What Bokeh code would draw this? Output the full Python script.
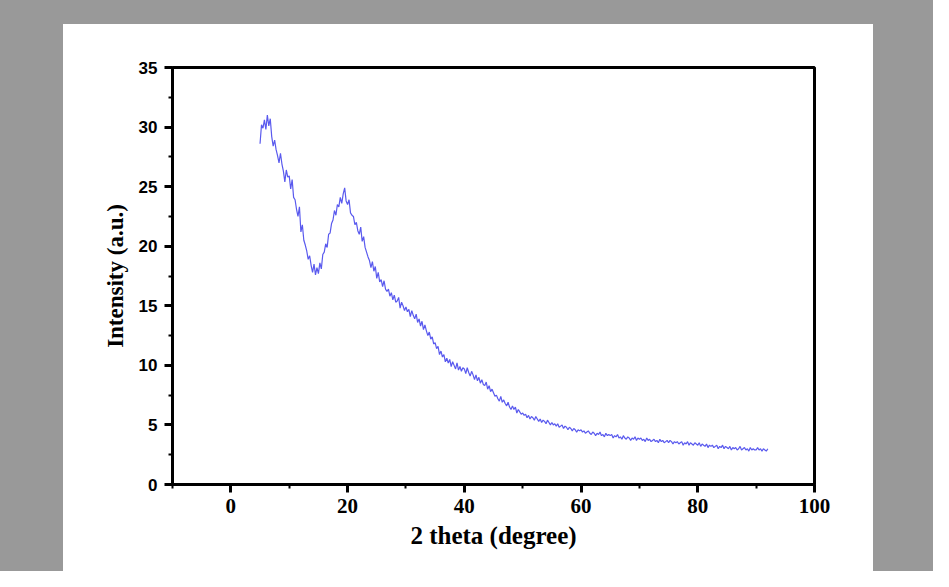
import numpy as np
from bokeh.plotting import figure
from bokeh.models import Range1d, SingleIntervalTicker, Spacer
from bokeh.layouts import column, row
from bokeh.embed import file_html
from bokeh.resources import INLINE

# 2-theta scan: 5 to 92 degrees, 0.25 degree step
two_theta = np.arange(5.0, 92.01, 0.25)
intensity = [
    28.6, 30.2, 29.9, 30.6, 29.8, 31.0, 30.1, 30.7, 29.2, 28.4, 28.9, 28.1, 27.6, 27.0, 27.8, 26.9, 26.3, 25.4, 26.4, 25.8,
    25.9, 24.8, 25.6, 24.1, 23.9, 23.1, 22.5, 23.3, 21.2, 21.8, 20.5, 20.1, 19.6, 18.9, 19.2, 18.4, 17.8, 18.5, 17.6, 18.2,
    17.7, 18.6, 18.1, 19.3, 19.5, 20.2, 19.9, 21.0, 21.1, 21.9, 22.2, 23.0, 22.6, 23.5, 23.3, 24.1, 23.6, 24.4, 24.9, 23.8,
    23.5, 23.9, 22.8, 22.6, 22.5, 21.8, 22.0, 21.3, 21.0, 21.6, 20.4, 20.8, 19.9, 19.5, 19.1, 18.8, 18.2, 18.7, 17.9, 18.3,
    17.3, 17.8, 17.0, 17.2, 16.6, 17.1, 16.4, 16.2, 16.4, 15.8, 16.1, 15.5, 15.9, 15.3, 15.4, 15.7, 14.8, 15.3, 15.0, 14.6,
    14.9, 14.5, 14.7, 14.1, 14.6, 14.2, 13.9, 14.3, 13.6, 13.9, 13.3, 13.7, 13.0, 13.4, 12.9, 12.5, 12.8, 12.2, 12.4, 11.8,
    11.9, 11.4, 11.6, 10.9, 11.2, 10.7, 10.9, 10.3, 10.6, 10.2, 10.5, 9.9, 10.3, 10.0, 9.7, 10.2, 9.6, 9.9, 9.5, 9.8,
    9.7, 9.3, 9.8, 9.4, 9.1, 9.5, 9.2, 8.8, 9.2, 8.7, 9.0, 8.5, 8.8, 8.4, 8.3, 8.6, 8.0, 8.3, 7.8, 8.0,
    7.7, 7.4, 7.5, 7.2, 7.0, 7.4, 6.9, 7.1, 6.8, 6.6, 6.9, 6.5, 6.3, 6.6, 6.3, 6.5, 6.0, 6.3, 6.1, 5.9,
    6.0, 5.8, 5.9, 5.6, 5.8, 5.5, 5.7, 5.6, 5.4, 5.7, 5.5, 5.3, 5.5, 5.2, 5.4, 5.3, 5.1, 5.4, 5.2, 5.0,
    5.2, 5.0, 5.1, 4.9, 5.1, 4.8, 4.9, 5.0, 4.7, 4.9, 4.8, 4.6, 4.8, 4.7, 4.5, 4.7, 4.6, 4.4, 4.6, 4.5,
    4.6, 4.4, 4.5, 4.3, 4.4, 4.5, 4.3, 4.2, 4.4, 4.3, 4.1, 4.3, 4.2, 4.4, 4.1, 4.2, 4.0, 4.3, 4.1, 4.2,
    4.1, 4.2, 3.9, 4.1, 4.0, 4.2, 3.9, 4.0, 3.8, 4.1, 3.9, 3.8, 4.0, 3.9, 3.7, 3.9, 3.8, 4.0, 3.7, 3.9,
    3.8, 3.9, 3.7, 3.8, 3.6, 3.9, 3.7, 3.8, 3.6, 3.7, 3.8, 3.6, 3.7, 3.5, 3.8, 3.6, 3.7, 3.5, 3.6, 3.7,
    3.5, 3.7, 3.6, 3.4, 3.6, 3.5, 3.6, 3.4, 3.5, 3.6, 3.3, 3.5, 3.4, 3.6, 3.3, 3.5, 3.4, 3.3, 3.5, 3.4,
    3.3, 3.5, 3.2, 3.4, 3.3, 3.2, 3.4, 3.1, 3.3, 3.2, 3.3, 3.1, 3.2, 3.3, 3.0, 3.2, 3.1, 3.3, 3.0, 3.2,
    3.1, 3.0, 3.2, 2.9, 3.1, 3.0, 3.1, 2.9, 3.0, 3.2, 2.9, 3.0, 3.1, 2.9, 3.0, 2.8, 3.1, 2.9, 3.0, 2.9,
    2.9, 3.1, 2.9, 3.0, 2.8, 3.0, 2.9, 2.8, 3.0,
]

x_title = "2 theta (degree)"
y_title = "Intensity (a.u.)"

SERIF = "Liberation Serif"
SANS = "Liberation Sans"
GRAY = "#999999"

p = figure(width=810, height=547, output_backend="svg", toolbar_location=None,
           x_range=Range1d(-10, 100), y_range=Range1d(0, 35),
           min_border_left=109, min_border_right=59,
           min_border_top=43, min_border_bottom=87)
p.background_fill_color = "white"
p.border_fill_color = "white"
p.outline_line_color = "black"
p.outline_line_width = 3
p.grid.visible = False

p.line(two_theta, intensity, line_color="#5a5aee", line_width=1.2)

p.xaxis.ticker = SingleIntervalTicker(interval=20, num_minor_ticks=2)
p.yaxis.ticker = SingleIntervalTicker(interval=5, num_minor_ticks=2)

for ax in (p.xaxis, p.yaxis):
    ax.axis_line_width = 3
    ax.axis_line_color = "black"
    ax.major_tick_line_width = 3
    ax.minor_tick_line_width = 2
    ax.major_tick_out = 8
    ax.major_tick_in = 0
    ax.minor_tick_out = 4
    ax.minor_tick_in = 0
    ax.major_label_text_color = "black"
    ax.major_label_text_font_style = "bold"
    ax.axis_label_text_font = SERIF
    ax.axis_label_text_font_style = "bold"
    ax.axis_label_text_color = "black"

p.xaxis.axis_label = x_title
p.xaxis.axis_label_text_font_size = "25px"
p.xaxis.major_label_text_font = SERIF
p.xaxis.major_label_text_font_size = "21px"
p.xaxis.major_label_standoff = 6
p.xaxis.axis_label_standoff = 6

p.yaxis.axis_label = y_title
p.yaxis.axis_label_text_font_size = "23px"
p.yaxis.major_label_text_font = SANS
p.yaxis.major_label_text_font_size = "17px"
p.yaxis.major_label_standoff = 7
p.yaxis.axis_label_standoff = 8

top = Spacer(width=933, height=24, styles={"background-color": GRAY})
left = Spacer(width=63, height=547, styles={"background-color": GRAY})
right = Spacer(width=60, height=547, styles={"background-color": GRAY})
page = column(top, row(left, p, right))

open("out.html", "w").write(file_html(page, INLINE))
